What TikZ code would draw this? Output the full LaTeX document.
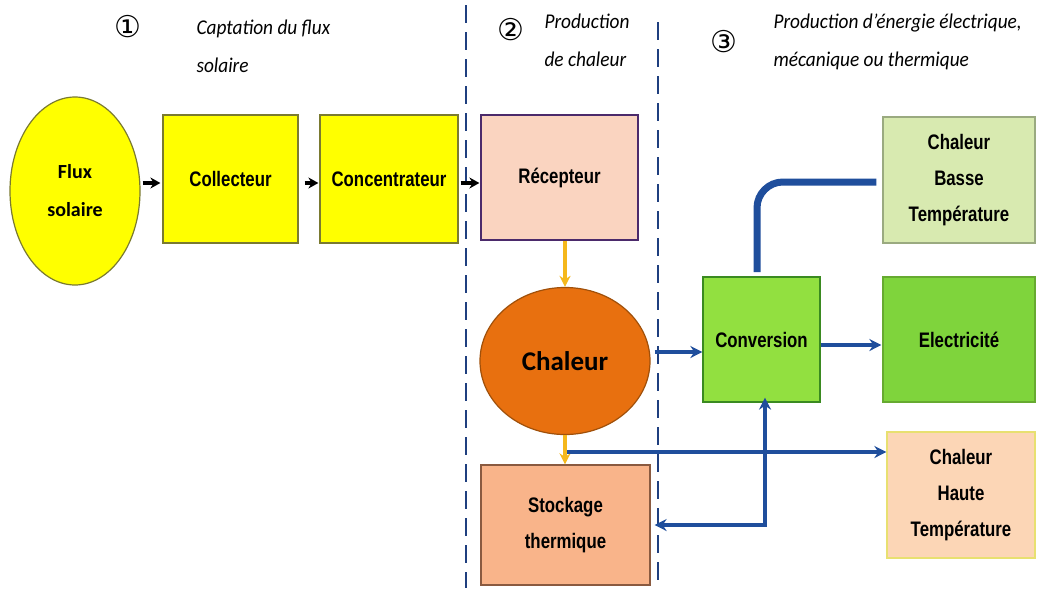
\documentclass[tikz,border=0pt]{standalone}
\usepackage{fontspec}
\usetikzlibrary{arrows.meta,shapes.geometric}
\newfontfamily\boxfont[FakeStretch=0.8]{Liberation Sans}
\newfontfamily\calfont{Carlito}
\newfontfamily\hdfont[FakeStretch=0.92]{Carlito}
\newfontfamily\symfont{DejaVu Sans}
\definecolor{yel}{HTML}{FFFF00}
\definecolor{yelb}{HTML}{7A7A30}
\definecolor{recf}{HTML}{FAD4C0}
\definecolor{recb}{HTML}{4B2A6B}
\definecolor{orf}{HTML}{E8700F}
\definecolor{orb}{HTML}{A0500A}
\definecolor{stof}{HTML}{F9B48A}
\definecolor{stob}{HTML}{8A5A40}
\definecolor{conf}{HTML}{92E040}
\definecolor{conb}{HTML}{3A8A20}
\definecolor{basf}{HTML}{D8EAB0}
\definecolor{basb}{HTML}{9AAA80}
\definecolor{elef}{HTML}{7FD43C}
\definecolor{hauf}{HTML}{FCD6B6}
\definecolor{haub}{HTML}{E8E070}
\definecolor{arblue}{HTML}{1F4E9C}
\definecolor{dashc}{HTML}{1F3F7F}
\definecolor{aryel}{HTML}{F5B81C}
\tikzset{
  boxn/.style={rectangle, draw, line width=1.2pt, align=center, font=\boxfont\bfseries\fontsize{21}{36}\selectfont, inner sep=2pt},
  ellin/.style={ellipse, draw, line width=1.2pt, inner sep=0pt, align=center},
  blk/.style={-{Stealth[length=10pt,width=11pt]}, line width=3.5pt, black},
  yarr/.style={-{Stealth[length=11pt,width=11pt]}, line width=3.5pt, aryel},
  barr/.style={-{Stealth[length=12pt,width=12pt]}, line width=3.5pt, arblue},
  sep/.style={dashc, line width=2.5pt, dash pattern=on 18pt off 9pt},
  head/.style={font=\hdfont\itshape\fontsize{21}{38}\selectfont, align=left, anchor=west},
  num/.style={font=\symfont\fontsize{30}{30}\selectfont}
}
\begin{document}
\begin{tikzpicture}[x=1pt,y=-1pt]
\useasboundingbox (0,0) rectangle (1045,595);
\fill[white] (0,0) rectangle (1045,595);
% separators
\draw[sep] (466,5) -- (466,588);
\draw[sep] (658,22) -- (658,582);
% headers
\node[num] (n1) at (128,27) {①};
\node[head] (h1) at (193,46) {Captation du flux\\solaire};
\node[num] (n2) at (511,30) {②};
\node[head] (h2) at (541,40) {Production\\de chaleur};
\node[num] (n3) at (724,42) {③};
\node[head] (h3) at (770,42) {Production d’énergie électrique,\\mécanique ou thermique};
% nodes
\node[ellin, fill=yel, draw=yelb, minimum width=130pt, minimum height=188pt, font=\calfont\bfseries\fontsize{20}{38}\selectfont] (flux) at (75,191) {Flux\\solaire};
\node[boxn, fill=yel, draw=yelb, minimum width=135pt, minimum height=128pt] (coll) at (230.5,179) {Collecteur};
\node[boxn, fill=yel, draw=yelb, minimum width=138pt, minimum height=128pt] (conc) at (389,179) {Concentrateur};
\node[boxn, fill=recf, draw=recb, minimum width=157pt, minimum height=125pt] (rec) at (559.5,177.5) {\raisebox{-6pt}{Récepteur}};
\node[ellin, fill=orf, draw=orb, minimum width=170pt, minimum height=147pt, font=\calfont\bfseries\fontsize{27}{30}\selectfont] (chal) at (565,361) {Chaleur};
\node[boxn, fill=stof, draw=stob, minimum width=169pt, minimum height=120pt] (sto) at (565.5,525) {Stockage\\thermique};
\node[boxn, fill=conf, draw=conb, minimum width=117pt, minimum height=125pt] (conv) at (761.5,339.5) {Conversion};
\node[boxn, fill=basf, draw=basb, minimum width=152pt, minimum height=126pt] (bas) at (959,180) {Chaleur\\Basse\\Température};
\node[boxn, fill=elef, draw=elef!80!black, minimum width=152pt, minimum height=125pt] (ele) at (959,339.5) {Electricité};
\node[boxn, fill=hauf, draw=haub, minimum width=148pt, minimum height=126pt] (hau) at (961,495) {Chaleur\\Haute\\Température};
% coordinates
\coordinate (j1) at (567,452);
\coordinate (j2) at (765,525);
\coordinate (cb) at (757,272);
\coordinate (cbt) at (757,182);
% black arrows
\draw[blk] ([xshift=2pt]flux.east |- 0,183) -- ([xshift=-2pt]coll.west |- 0,183);
\draw[blk] ([xshift=6pt]coll.east |- 0,183) -- ([xshift=-1pt]conc.west |- 0,183);
\draw[blk] ([xshift=2pt]conc.east |- 0,183) -- ([xshift=-1pt]rec.west |- 0,183);
% yellow arrows
\draw[yarr] (rec.south -| 565,0) -- (chal.north);
\draw[yarr] (chal.south) -- (sto.north -| chal.south);
% blue arrows
\draw[barr] ([xshift=4pt]chal.east |- 0,352) -- (conv.west |- 0,352);
\draw[barr] (conv.east |- 0,345) -- ([xshift=-1pt]ele.west |- 0,345);
\draw[arblue, line width=7pt, rounded corners=26pt] (cb) -- (cbt) -- ([xshift=-6pt]bas.west |- cbt);
\draw[barr] (j1) -- (hau.west |- j1);
\draw[barr, {Stealth[length=12pt,width=12pt]}-{Stealth[length=12pt,width=12pt]}] ([xshift=4pt]sto.east |- j2) -- (j2) -- ([yshift=5pt]conv.south -| j2);
\end{tikzpicture}
\end{document}
